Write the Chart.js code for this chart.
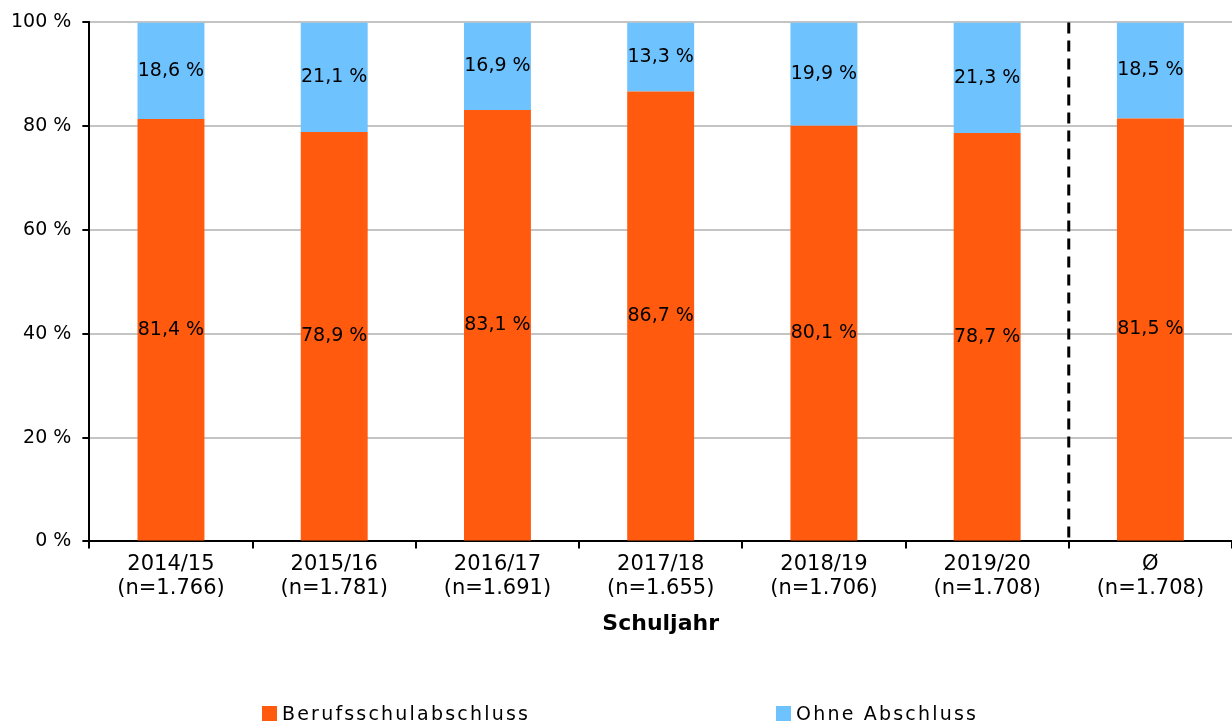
<!DOCTYPE html>
<html>
<head>
<meta charset="utf-8">
<script src="https://cdn.jsdelivr.net/npm/chart.js@4"></script>
<style>
  html, body { margin: 0; padding: 0; background: #fff; }
  #wrap { position: relative; width: 1232px; height: 723px; }
  #legend {
    position: absolute; left: 262px; top: 702px; display: flex;
    font-family: "DejaVu Sans", sans-serif; font-size: 19px; letter-spacing: 2.2px; color: #000;
  }
  #legend .item { display: flex; align-items: center; }
  #legend .item:first-child { width: 514px; }
  #legend .box { width: 15px; height: 15px; margin-right: 5px; }
</style>
</head>
<body>
<div id="wrap">
  <canvas id="chart" width="1232" height="723"></canvas>
  <div id="legend"></div>
</div>
<script>
const categories = [
  ["2014/15", "(n=1.766)"],
  ["2015/16", "(n=1.781)"],
  ["2016/17", "(n=1.691)"],
  ["2017/18", "(n=1.655)"],
  ["2018/19", "(n=1.706)"],
  ["2019/20", "(n=1.708)"],
  ["Ø", "(n=1.708)"]
];
const berufsschulabschluss = [81.4, 78.9, 83.1, 86.7, 80.1, 78.7, 81.5];
const ohneAbschluss = [18.6, 21.1, 16.9, 13.3, 19.9, 21.3, 18.5];
const yTicks = [0, 20, 40, 60, 80, 100];

const FONT = "DejaVu Sans";

// Labels in the middle of every bar segment
const segmentLabels = {
  id: "segmentLabels",
  afterDatasetsDraw(chart) {
    const ctx = chart.ctx;
    ctx.save();
    ctx.font = `19px "${FONT}"`;
    ctx.fillStyle = "#000";
    ctx.textAlign = "center";
    ctx.textBaseline = "middle";
    chart.data.datasets.forEach((ds, i) => {
      chart.getDatasetMeta(i).data.forEach((bar, j) => {
        const mid = (bar.y + bar.base) / 2;
        ctx.fillText(ds.data[j].toFixed(1).replace(".", ",") + " %", bar.x, mid);
      });
    });
    ctx.restore();
  }
};

// Dashed separator before the average column
const separator = {
  id: "separator",
  afterDatasetsDraw(chart) {
    const x = chart.scales.x;
    const n = categories.length;
    const px = (x.getPixelForValue(n - 2) + x.getPixelForValue(n - 1)) / 2;
    const area = chart.chartArea;
    const ctx = chart.ctx;
    ctx.save();
    ctx.strokeStyle = "#000";
    ctx.lineWidth = 3;
    ctx.setLineDash([11, 7]);
    ctx.beginPath();
    ctx.moveTo(px, area.top);
    ctx.lineTo(px, area.bottom);
    ctx.stroke();
    ctx.restore();
  }
};

const chart = new Chart(document.getElementById("chart"), {
  type: "bar",
  data: {
    labels: categories,
    datasets: [
      {
        label: "Berufsschulabschluss",
        data: berufsschulabschluss,
        backgroundColor: "#FF5A0E",
        barPercentage: 0.41,
        categoryPercentage: 1
      },
      {
        label: "Ohne Abschluss",
        data: ohneAbschluss,
        backgroundColor: "#6EC3FF",
        barPercentage: 0.41,
        categoryPercentage: 1
      }
    ]
  },
  options: {
    responsive: false,
    animation: false,
    layout: { padding: { top: 9, right: 0, left: 0, bottom: 86 } },
    plugins: {
      legend: { display: false },
      tooltip: { enabled: false }
    },
    scales: {
      x: {
        stacked: true,
        offset: true,
        grid: {
          offset: true,
          drawOnChartArea: false,
          drawTicks: true,
          tickLength: 7,
          color: "#000",
          lineWidth: 2
        },
        border: { color: "#000", width: 2 },
        ticks: {
          color: "#000",
          padding: 5,
          maxRotation: 0,
          font: { family: FONT, size: 21, lineHeight: 1.1 }
        },
        title: {
          display: true,
          text: "Schuljahr",
          color: "#000",
          padding: { top: 6, bottom: 0 },
          font: { family: FONT, size: 22, weight: "bold" }
        }
      },
      y: {
        stacked: true,
        min: 0,
        max: 100,
        afterBuildTicks(axis) {
          axis.ticks = yTicks.map(v => ({ value: v }));
        },
        grid: {
          color: "#C4C4C4",
          lineWidth: 2,
          tickColor: "#000",
          tickLength: 7
        },
        border: { color: "#000", width: 2 },
        ticks: {
          color: "#000",
          padding: 11,
          font: { family: FONT, size: 19 },
          callback: v => v + " %"
        }
      }
    }
  },
  plugins: [segmentLabels, separator]
});

// Legend as HTML below the chart
const legend = document.getElementById("legend");
chart.data.datasets.forEach(ds => {
  const item = document.createElement("div");
  item.className = "item";
  const box = document.createElement("span");
  box.className = "box";
  box.style.background = ds.backgroundColor;
  const label = document.createElement("span");
  label.textContent = ds.label;
  item.appendChild(box);
  item.appendChild(label);
  legend.appendChild(item);
});
</script>
</body>
</html>
